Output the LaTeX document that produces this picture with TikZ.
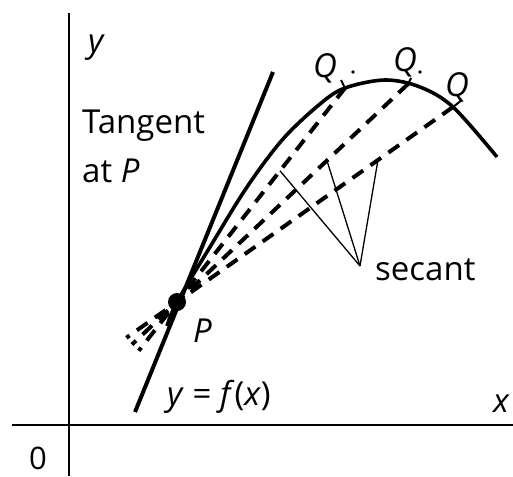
\documentclass[tikz,border=0pt]{standalone}
\usepackage{fontspec}
\setmainfont{Open Sans}
\usetikzlibrary{calc}
\begin{document}
\begin{tikzpicture}[x=1pt,y=-1pt,
  lbl/.style={inner sep=0pt, anchor=base west, font=\fontsize{33}{40}\selectfont},
  ilbl/.style={lbl, font=\fontsize{33}{40}\selectfont\itshape},
  axisline/.style={line width=2pt},
  boldline/.style={line width=4pt},
  curveline/.style={line width=3.6pt},
  secline/.style={line width=4pt, dash pattern=on 13pt off 9pt},
  pointer/.style={line width=1.3pt},
  tick/.style={line width=2pt},
]
\useasboundingbox (0,0) rectangle (513,476);
% axes
\coordinate (ytop) at (69,13);
\coordinate (ybot) at (69,476);
\coordinate (xl) at (12,425);
\coordinate (xr) at (513,425);
\draw[axisline] (ytop) -- (ybot);
\draw[axisline] (xl) -- (xr);
% key points
\coordinate (P) at (177,302);
\coordinate (Q1) at (345,88);
\coordinate (Q2) at (408,84);
\coordinate (Q3) at (453,107);
% tangent
\coordinate (T1) at (135,412);
\coordinate (T2) at (273,72);
\draw[boldline] (T1) -- (T2);
% curve
\draw[curveline] plot[smooth, tension=0.55] coordinates
  {(167,326) (177,302) (210,247) (247,187) (283,139) (320,104) (345,88) (385,80) (420,87) (453,107) (497,157)};
% secants
\draw[secline] (Q1) -- ($(P)!-62pt!(Q1)$);
\draw[secline] (Q2) -- ($(P)!-62pt!(Q2)$);
\draw[secline] (Q3) -- ($(P)!-62pt!(Q3)$);
% point P
\fill (P) circle (9pt);
% ticks at Q
\draw[tick] (Q1) -- (341,80);
\draw[tick] (Q2) -- (411,78);
\draw[tick] (Q3) -- (462,100);
\fill (353,72) circle (1.8pt);
\fill (420,72) circle (1.8pt);
% pointer lines
\coordinate (S) at (360,266);
\draw[pointer] (S) -- ($(P)!0.613!(Q1)$);
\draw[pointer] (S) -- ($(P)!0.649!(Q2)$);
\draw[pointer] (S) -- ($(P)!0.728!(Q3)$);
% labels
\node[ilbl] (ylab) at (88,53) {y};
\node[lbl] (tang) at (82,133) {Tangent};
\node[lbl] (atp) at (82,182) {at \textit{P}};
\node[ilbl] (plab) at (193,342) {P};
\node[lbl] (feq) at (167,405) {\textit{y} = \textit{f}(\textit{x})};
\node[ilbl] (xlab) at (493,412) {x};
\node[lbl, anchor=base, font=\fontsize{31}{36}\selectfont] (zero) at (38,469) {0};
\node[lbl] (sec) at (375,280) {secant};
\node[ilbl] (q1lab) at (313,78) {Q};
\node[ilbl] (q2lab) at (393,72) {Q};
\node[ilbl] (q3lab) at (445,96) {Q};
\end{tikzpicture}
\end{document}
